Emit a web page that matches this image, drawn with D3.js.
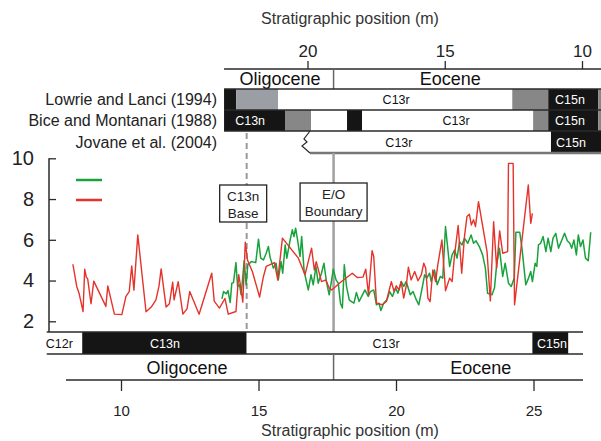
<!DOCTYPE html>
<html>
<head>
<meta charset="utf-8">
<script src="https://cdn.jsdelivr.net/npm/d3@7"></script>
<style>
body { margin: 0; background: #fff; }
svg { display: block; font-family: "Liberation Sans", Arial, sans-serif; }
</style>
</head>
<body>
<svg id="chart" width="601" height="441"></svg>
<script>
// stratigraphic position (m) and values, red series
const redPos = [8.25, 8.39, 8.48, 8.62, 8.68, 8.74, 8.79, 8.91, 9.01, 9.45, 9.52, 9.76, 10.03, 10.18, 10.30, 10.39, 10.47, 10.61, 10.91, 11.10,
  11.27, 11.38, 11.46, 11.64, 11.76, 11.88, 11.93, 12.08, 12.25, 12.40, 12.50, 12.84, 13.30, 13.39, 13.58, 13.78, 13.90, 14.18, 14.28, 14.36,
  14.43, 14.52, 14.60, 14.78, 15.04, 15.18, 15.28, 15.58, 15.70, 15.87, 16.45, 16.69, 16.93, 17.03, 17.10, 17.29, 17.45, 17.57, 17.66, 18.02,
  18.41, 18.59, 18.80, 18.90, 19.00, 19.13, 19.19, 19.29, 19.50, 19.65, 19.83, 19.93, 20.01, 20.11, 20.19, 20.28, 20.37, 20.45, 20.55, 20.68,
  20.80, 20.92, 21.01, 21.08, 21.16, 21.24, 21.34, 21.44, 21.52, 21.67, 21.80, 21.95, 22.04, 22.13, 22.26, 22.39, 22.49, 22.58, 22.67, 22.74,
  22.82, 22.89, 23.00, 23.31, 23.43, 23.55, 23.66, 23.77, 23.88, 24.06, 24.09, 24.26, 24.31, 24.81, 24.90, 24.96];
const redVal = [4.80, 3.71, 3.35, 2.48, 4.56, 4.17, 4.07, 2.86, 3.97, 2.73, 3.74, 2.35, 2.33, 3.22, 3.46, 4.72, 3.53, 6.24, 2.47, 2.70,
  3.05, 3.71, 4.57, 2.70, 2.86, 3.92, 3.05, 3.94, 2.35, 2.61, 3.46, 2.35, 4.36, 2.99, 2.65, 3.12, 2.35, 2.48, 4.29, 3.63,
  2.94, 5.88, 5.01, 4.43, 3.19, 4.20, 4.69, 4.88, 4.03, 6.08, 5.10, 4.28, 5.59, 4.52, 4.93, 3.95, 4.03, 3.63, 3.54, 3.95,
  4.36, 4.15, 4.17, 4.56, 3.30, 5.47, 5.18, 2.89, 2.81, 2.97, 3.95, 3.46, 3.74, 3.54, 3.95, 3.14, 3.71, 4.66, 4.03, 4.44,
  3.99, 4.28, 4.85, 4.61, 3.14, 2.97, 4.52, 3.95, 4.77, 5.99, 3.50, 4.12, 3.95, 5.26, 6.70, 4.36, 6.16, 7.14, 7.25, 6.73,
  6.98, 6.65, 7.87, 5.42, 3.00, 6.89, 4.61, 6.44, 5.34, 5.42, 9.75, 9.75, 2.81, 8.69, 6.81, 7.30];

// green series
const greenPos = [13.67, 13.73, 13.83, 13.89, 13.97, 14.03, 14.09, 14.18, 14.24, 14.31, 14.37, 14.48, 14.55, 14.61, 14.74, 14.90, 15.00, 15.08, 15.18, 15.28,
  15.36, 15.42, 15.54, 15.64, 15.72, 15.82, 15.88, 15.97, 16.03, 16.15, 16.23, 16.29, 16.35, 16.41, 16.51, 16.57, 16.66, 16.73, 16.81, 16.91,
  16.99, 17.09, 17.17, 17.29, 17.38, 17.47, 17.57, 17.66, 17.72, 17.82, 17.90, 17.98, 18.05, 18.12, 18.20, 18.30, 18.38, 18.47, 18.56, 18.66,
  18.78, 18.87, 18.99, 19.07, 19.19, 19.29, 19.38, 19.45, 19.55, 19.67, 19.77, 19.87, 19.99, 20.07, 20.19, 20.28, 20.37, 20.52, 20.62, 20.74,
  20.83, 20.95, 21.04, 21.12, 21.22, 21.28, 21.40, 21.50, 21.61, 21.70, 21.80, 21.95, 22.04, 22.13, 22.22, 22.31, 22.40, 22.49, 22.61, 22.73,
  22.82, 22.91, 23.03, 23.15, 23.25, 23.33, 23.49, 23.58, 23.66, 23.76, 23.88, 23.97, 24.09, 24.19, 24.30, 24.36, 24.50, 24.58, 24.72, 24.82,
  24.90, 24.96, 25.06, 25.12, 25.18, 25.26, 25.35, 25.45, 25.53, 25.63, 25.71, 25.81, 25.91, 26.03, 26.13, 26.23, 26.32, 26.39, 26.47, 26.56,
  26.63, 26.71, 26.80, 26.89, 26.99, 27.08];
const greenVal = [3.10, 3.46, 3.35, 3.51, 2.92, 3.87, 3.90, 4.88, 3.71, 3.79, 3.30, 4.98, 3.79, 4.77, 4.93, 4.88, 6.03, 5.10, 5.01, 5.34,
  5.67, 5.15, 4.61, 4.85, 4.03, 4.93, 4.36, 5.75, 5.10, 5.99, 6.49, 6.16, 6.57, 6.08, 5.18, 6.16, 4.44, 4.03, 3.54, 4.28,
  3.79, 4.69, 3.87, 4.36, 4.85, 3.95, 3.30, 4.03, 4.56, 4.03, 3.87, 2.89, 2.65, 4.77, 3.71, 3.05, 2.97, 2.89, 3.41, 2.97,
  3.30, 3.54, 3.22, 3.46, 3.54, 2.81, 2.89, 2.53, 2.89, 3.05, 3.46, 3.22, 3.63, 3.38, 3.95, 3.71, 3.95, 3.30, 3.46, 3.05,
  2.81, 3.63, 4.28, 4.12, 4.36, 3.95, 4.52, 3.79, 4.20, 4.12, 6.65, 4.69, 5.26, 5.50, 5.10, 5.91, 5.75, 6.08, 5.83, 6.24,
  5.83, 5.95, 5.67, 5.26, 4.61, 3.38, 3.30, 3.63, 4.77, 5.59, 4.20, 4.85, 3.87, 3.71, 4.12, 6.37, 6.37, 5.59, 3.79, 4.12,
  4.44, 3.95, 4.85, 4.69, 5.75, 5.83, 6.16, 5.42, 6.08, 5.42, 6.08, 6.32, 5.59, 5.99, 6.32, 5.95, 5.83, 5.59, 5.99, 5.26,
  6.24, 5.67, 5.99, 5.10, 4.97, 6.37];

// magnetostratigraphy, positions on the upper (reversed) scale
const lowrieChrons = [
  { from: 23.04, to: 22.60, p: "n" }, { from: 22.60, to: 21.07, p: "a" },
  { from: 21.07, to: 12.54, p: "r", name: "C13r", at: 16.77 }, { from: 12.54, to: 11.23, p: "b" },
  { from: 11.23, to: 9.41, p: "n", name: "C15n", at: 10.44 }, { from: 9.41, to: 9.0, p: "b" }
];
const biceChrons = [
  { from: 23.04, to: 20.82, p: "n", name: "C13n", at: 22.09 }, { from: 20.82, to: 19.87, p: "b" },
  { from: 19.87, to: 18.56, p: "r" }, { from: 18.56, to: 18.01, p: "n" },
  { from: 18.01, to: 11.78, p: "r", name: "C13r", at: 14.59 }, { from: 11.78, to: 11.23, p: "b" },
  { from: 11.23, to: 9.41, p: "n", name: "C15n", at: 10.44 }, { from: 9.41, to: 9.0, p: "b" }
];
const jovaneChrons = [
  { from: 19.91, to: 11.13, p: "r", name: "C13r", at: 16.67 },
  { from: 11.13, to: 9.0, p: "n", name: "C15n", at: 10.40 }
];
const studies = ["Lowrie and Lanci (1994)", "Bice and Montanari (1988)", "Jovane et al. (2004)"];

// this section, lower scale
const sectionChrons = [
  { from: 7.3, to: 8.59, p: "r", name: "C12r", at: 7.76 },
  { from: 8.59, to: 14.57, p: "n", name: "C13n", at: 11.6 },
  { from: 14.57, to: 24.96, p: "r", name: "C13r", at: 19.64 },
  { from: 24.96, to: 26.27, p: "n", name: "C15n", at: 25.67 },
  { from: 26.27, to: 26.8, p: "r" }
];
const c13nBase = 14.57;
const eoBoundary = 17.73;
const bottomEpochs = [{ name: "Oligocene", at: 12.4 }, { name: "Eocene", at: 23.08 }];
const topEpochs = [{ name: "Oligocene", at: 21.0 }, { name: "Eocene", at: 14.8 }];
const yTicks = [2, 4, 6, 8, 10];
const xTicksBottom = [10, 15, 20, 25];
const xTicksTop = [20, 15, 10];

const svg = d3.select("#chart");
const x = d3.scaleLinear().domain([10, 25]).range([121, 533.5]);
const xTop = d3.scaleLinear().domain([20, 10]).range([307.5, 582]);
const y = d3.scaleLinear().domain([2, 10]).range([321.3, 158.3]);
const fill = d3.scaleOrdinal().domain(["n", "r", "a", "b"]).range(["#151515", "#ffffff", "#9b9ea4", "#878787"]);

const red = "#e5322b", green = "#17a23c", dark = "#2a2a2a";

// ---- top axis
const topAxisY = 69;
const gTop = svg.append("g").attr("transform", `translate(0,${topAxisY})`);
gTop.call(d3.axisTop(xTop).tickValues(d3.range(10, 24)).tickSize(4).tickFormat(""));
gTop.call(d3.axisTop(xTop).tickValues(xTicksTop).tickSize(8).tickPadding(4).tickFormat(d3.format("d")))
gTop.selectAll(".domain").remove();
gTop.selectAll("line").attr("stroke", dark).attr("stroke-width", 1.3);
gTop.selectAll("text").attr("font-size", 17).attr("fill", "#222").attr("font-family", "Liberation Sans, Arial, sans-serif");
svg.append("line").attr("x1", xTop(23.04)).attr("x2", 601).attr("y1", topAxisY).attr("y2", topAxisY)
  .attr("stroke", dark).attr("stroke-width", 1.5);
svg.append("text").attr("x", 350).attr("y", 24).attr("text-anchor", "middle")
  .attr("font-size", 16).attr("fill", "#333").text("Stratigraphic position (m)");

// top epoch strip
svg.append("line").attr("x1", x(eoBoundary)).attr("x2", x(eoBoundary)).attr("y1", topAxisY).attr("y2", 89)
  .attr("stroke", "#666").attr("stroke-width", 1.5);
svg.selectAll(".topEpoch").data(topEpochs).join("text")
  .attr("x", d => xTop(d.at)).attr("y", 85).attr("text-anchor", "middle")
  .attr("font-size", 18).attr("fill", "#111").text(d => d.name);

// chron rows
const rowTop = [89, 110, 131];
const rowH = [21, 21, 22];
[lowrieChrons, biceChrons, jovaneChrons].forEach((rows, i) => {
  const g = svg.append("g");
  g.selectAll("rect").data(rows).join("rect")
    .attr("x", d => xTop(d.from)).attr("width", d => xTop(d.to) - xTop(d.from))
    .attr("y", rowTop[i]).attr("height", rowH[i])
    .attr("fill", d => fill(d.p));
  g.selectAll("text").data(rows.filter(d => d.name)).join("text")
    .attr("x", d => xTop(d.at)).attr("y", rowTop[i] + rowH[i] / 2 + 4.5)
    .attr("text-anchor", "middle").attr("font-size", 12.5)
    .attr("fill", d => d.p === "n" ? "#fff" : "#111").text(d => d.name);
  svg.append("text").attr("x", 217).attr("y", rowTop[i] + rowH[i] / 2 + 5.5)
    .attr("text-anchor", "end").attr("font-size", 16).attr("fill", "#222").text(studies[i]);
});
[89, 110, 131].forEach(yy => {
  svg.append("line").attr("x1", xTop(23.04)).attr("x2", 601).attr("y1", yy).attr("y2", yy)
    .attr("stroke", dark).attr("stroke-width", 1.3);
});
// Jovane lower edge and broken start
const jx = xTop(jovaneChrons[0].from);
svg.append("line").attr("x1", jx).attr("x2", 601).attr("y1", 153).attr("y2", 153)
  .attr("stroke", "#777").attr("stroke-width", 2.5);
svg.append("path")
  .attr("d", `M${jx},131 L${jx - 6},139 L${jx - 3},142 L${jx - 8},146 L${jx},153`)
  .attr("fill", "#fff").attr("stroke", dark).attr("stroke-width", 1.2);

// ---- reference lines
svg.append("line").attr("x1", x(c13nBase)).attr("x2", x(c13nBase)).attr("y1", 133).attr("y2", 332)
  .attr("stroke", "#9a9a9a").attr("stroke-width", 2).attr("stroke-dasharray", "6,4");
svg.append("line").attr("x1", x(eoBoundary)).attr("x2", x(eoBoundary)).attr("y1", 153).attr("y2", 332)
  .attr("stroke", "#a0a0a0").attr("stroke-width", 2.5);

// ---- series
const line = d3.line().x(d => x(d[0])).y(d => y(d[1]));
svg.append("path").datum(greenPos.map((p, i) => [p, greenVal[i]])).attr("d", line)
  .attr("fill", "none").attr("stroke", green).attr("stroke-width", 1.5).attr("stroke-linejoin", "round");
svg.append("path").datum(redPos.map((p, i) => [p, redVal[i]])).attr("d", line)
  .attr("fill", "none").attr("stroke", red).attr("stroke-width", 1.4).attr("stroke-linejoin", "round");

// legend (lines only)
svg.append("line").attr("x1", 76).attr("x2", 102).attr("y1", 180).attr("y2", 180).attr("stroke", green).attr("stroke-width", 2.5);
svg.append("line").attr("x1", 76).attr("x2", 102).attr("y1", 200).attr("y2", 200).attr("stroke", red).attr("stroke-width", 2.5);

// annotation boxes
function note(x0, y0, w, h, lines) {
  const g = svg.append("g");
  g.append("rect").attr("x", x0).attr("y", y0).attr("width", w).attr("height", h)
    .attr("fill", "#fff").attr("stroke", "#222").attr("stroke-width", 1.3);
  lines.forEach((t, i) => g.append("text").attr("x", x0 + w / 2).attr("y", y0 + 16 + i * 16.5)
    .attr("text-anchor", "middle").attr("font-size", 13.5).attr("fill", "#222").text(t));
}
note(x(c13nBase) - 27, 185, 47, 37, ["C13n", "Base"]);
note(x(eoBoundary) - 33.5, 183, 67, 38, ["E/O", "Boundary"]);

// ---- y axis
const gy = svg.append("g").attr("transform", "translate(49,0)");
gy.call(d3.axisLeft(y).tickValues(d3.range(2, 10.01, 0.5)).tickSize(-7).tickFormat(""));
gy.call(d3.axisLeft(y).tickValues(yTicks).tickSize(-7).tickPadding(15).tickFormat(d3.format("d")));
gy.selectAll(".domain").remove();
gy.selectAll("line").attr("stroke", dark).attr("stroke-width", 1.3);
gy.selectAll("text").attr("font-size", 20).attr("fill", "#222").attr("font-family", "Liberation Sans, Arial, sans-serif");
svg.append("line").attr("x1", 49).attr("x2", 49).attr("y1", y(10)).attr("y2", 332)
  .attr("stroke", dark).attr("stroke-width", 1.5);

// ---- bottom chron bar
const bar = svg.append("g");
bar.selectAll("rect").data(sectionChrons).join("rect")
  .attr("x", d => x(d.from)).attr("width", d => x(d.to) - x(d.from))
  .attr("y", 332).attr("height", 22).attr("fill", d => fill(d.p));
bar.selectAll("text").data(sectionChrons.filter(d => d.name)).join("text")
  .attr("x", d => x(d.at)).attr("y", 347.5).attr("text-anchor", "middle").attr("font-size", 12.5)
  .attr("fill", d => d.p === "n" ? "#fff" : "#111").text(d => d.name);
[332, 354].forEach(yy => {
  svg.append("line").attr("x1", x(7.3)).attr("x2", x(26.8)).attr("y1", yy).attr("y2", yy)
    .attr("stroke", dark).attr("stroke-width", 1.4);
});

// bottom epochs
svg.append("line").attr("x1", x(eoBoundary)).attr("x2", x(eoBoundary)).attr("y1", 354).attr("y2", 380)
  .attr("stroke", "#666").attr("stroke-width", 1.5);
svg.selectAll(".botEpoch").data(bottomEpochs).join("text")
  .attr("x", d => x(d.at)).attr("y", 374).attr("text-anchor", "middle")
  .attr("font-size", 18).attr("fill", "#111").text(d => d.name);

// ---- bottom axis
const gx = svg.append("g").attr("transform", "translate(0,380)");
gx.call(d3.axisBottom(x).tickValues(d3.range(8, 27)).tickSize(6).tickFormat(""));
gx.call(d3.axisBottom(x).tickValues(xTicksBottom).tickSize(11).tickPadding(14).tickFormat(d3.format("d")));
gx.selectAll(".domain").remove();
gx.selectAll("line").attr("stroke", dark).attr("stroke-width", 1.3);
gx.selectAll("text").attr("font-size", 15).attr("fill", "#222").attr("font-family", "Liberation Sans, Arial, sans-serif");
svg.append("line").attr("x1", x(8)).attr("x2", x(26.8)).attr("y1", 380).attr("y2", 380)
  .attr("stroke", dark).attr("stroke-width", 1.5);
svg.append("text").attr("x", 350).attr("y", 436).attr("text-anchor", "middle")
  .attr("font-size", 16).attr("fill", "#333").text("Stratigraphic position (m)");
</script>
</body>
</html>
